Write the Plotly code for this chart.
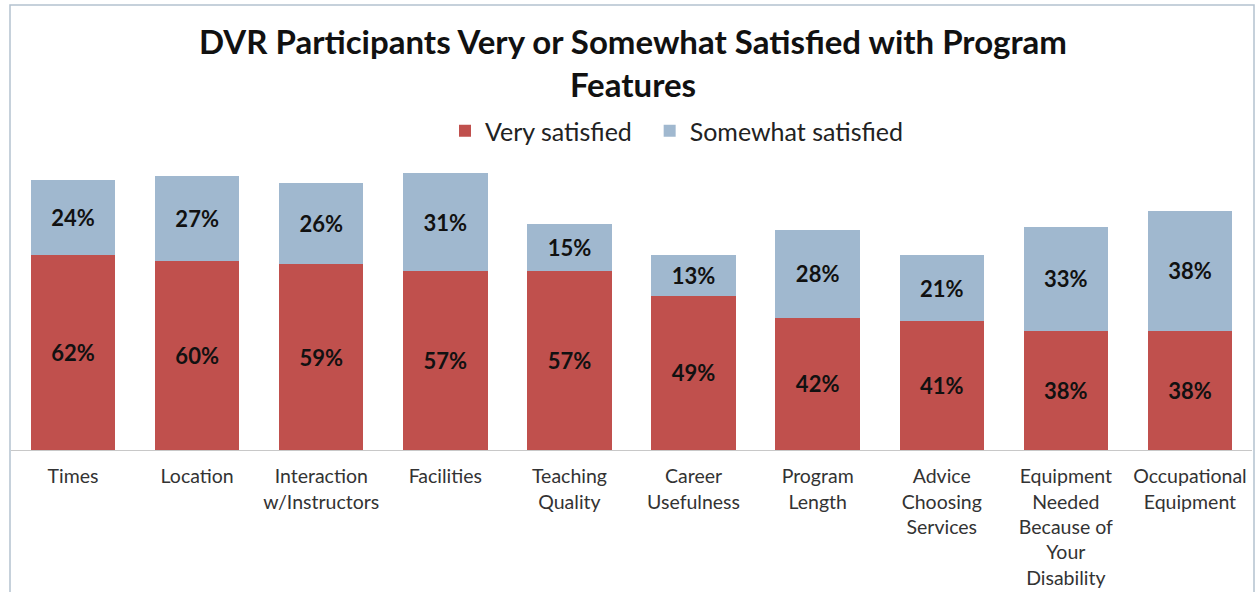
import plotly.graph_objects as go

categories = ["Times", "Location", "Interaction<br>w/Instructors", "Facilities",
              "Teaching<br>Quality", "Career<br>Usefulness", "Program<br>Length",
              "Advice<br>Choosing<br>Services", "Equipment<br>Needed<br>Because of<br>Your<br>Disability",
              "Occupational<br>Equipment"]
very_satisfied = [62, 60, 59, 57, 57, 49, 42, 41, 38, 38]
somewhat_satisfied = [24, 27, 26, 31, 15, 13, 28, 21, 33, 38]
series_names = ["Very satisfied", "Somewhat satisfied"]

RED = "#c0504d"
BLUE = "#a0b8cf"
FONT = "Lato"

W, H = 1257, 592
ML, MR, MT, MB = 11, 5, 167, 142

fig = go.Figure()
fig.add_trace(go.Bar(
    x=categories, y=very_satisfied, name=series_names[0] + "\u00a0\u00a0",
    marker=dict(color=RED, line=dict(width=0)),
    text=[f"{v}%" for v in very_satisfied], textposition="inside",
    insidetextanchor="middle",
    textfont=dict(family=FONT, size=22, color="#111111", weight="bold"),
))
fig.add_trace(go.Bar(
    x=categories, y=somewhat_satisfied, name=series_names[1],
    marker=dict(color=BLUE, line=dict(width=0)),
    text=[f"{v}%" for v in somewhat_satisfied], textposition="inside",
    insidetextanchor="middle",
    textfont=dict(family=FONT, size=22, color="#111111", weight="bold"),
))

pw = W - ML - MR
ph = H - MT - MB
frame_x0 = (10 - ML) / pw
frame_x1 = (1254 - ML) / pw
frame_y1 = (H - MB - 5) / ph
frame_y0 = (H - MB - 620) / ph

fig.update_layout(
    width=W, height=H,
    margin=dict(l=ML, r=MR, t=MT, b=MB, autoexpand=False),
    paper_bgcolor="white", plot_bgcolor="white",
    barmode="stack", bargap=0.32,
    uniformtext=dict(mode=False),
    title=dict(text="<b>DVR Participants Very or Somewhat Satisfied with Program<br>Features</b>",
               x=633 / W, xanchor="center", y=1 - 54 / H, yanchor="middle",
               font=dict(family=FONT, size=33, color="#111111")),
    legend=dict(orientation="h", x=0.5 + 45 / pw, xanchor="center", y=1 + 36 / ph, yanchor="middle",
                traceorder="normal", font=dict(family=FONT, size=25, color="#222222"),
                itemwidth=30),
    xaxis=dict(showline=True, linecolor="#c8c8c8", linewidth=1, ticks="",
               ticklabelstandoff=9, automargin=False,
               tickfont=dict(family=FONT, size=19.5, color="#333333"), showgrid=False),
    yaxis=dict(range=[0, 90], visible=False, showgrid=False, automargin=False),
    shapes=[dict(type="rect", xref="paper", yref="paper",
                 x0=frame_x0, x1=frame_x1, y0=frame_y0, y1=frame_y1,
                 line=dict(color="#b4c2d0", width=1.5), layer="below")],
    showlegend=True,
)

fig.write_html("out.html")
